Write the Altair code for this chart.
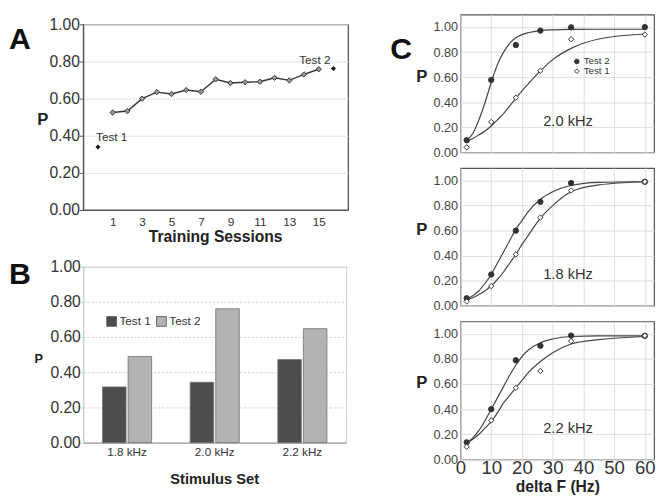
import altair as alt
import pandas as pd

FONT = "Liberation Sans"

# ---------------- Panel A data ----------------
sessions = list(range(1, 16))
session_p = [0.525, 0.533, 0.60, 0.635, 0.625, 0.646, 0.637, 0.704,
             0.684, 0.688, 0.691, 0.712, 0.698, 0.73, 0.758]
test_sessions = [0, 16]
test_p = [0.34, 0.762]
test_names = ["Test 1", "Test 2"]
test_label_x = [0.93, 14.74]
test_label_y = [0.395, 0.81]
odd_sessions = [1, 3, 5, 7, 9, 11, 13, 15]
p_ticks = [0.0, 0.2, 0.4, 0.6, 0.8, 1.0]

# ---------------- Panel B data ----------------
stim_sets = ["1.8 kHz", "2.0 kHz", "2.2 kHz"]
b_test1 = [0.317, 0.343, 0.472]
b_test2 = [0.49, 0.761, 0.648]

# ---------------- Panel C data ----------------
delta_f = [2, 10, 18, 26, 36, 60]
c20_t2 = [0.097, 0.578, 0.857, 0.972, 0.998, 1.0]
c20_t1 = [0.04, 0.243, 0.437, 0.652, 0.903, 0.94]
c18_t2 = [0.06, 0.25, 0.60, 0.83, 0.98, 0.99]
c18_t1 = [0.035, 0.157, 0.41, 0.705, 0.92, 0.99]
c22_t2 = [0.135, 0.40, 0.79, 0.906, 0.987, 0.985]
c22_t1 = [0.10, 0.31, 0.57, 0.705, 0.943, 0.985]

# fitted curves
curve_x = [2, 4, 6, 8, 10, 12, 14, 16, 18, 20, 22, 26, 30, 36, 45, 60]
fit20_t2 = [0.095, 0.15, 0.26, 0.40, 0.56, 0.70, 0.80, 0.87, 0.915, 0.94, 0.955, 0.972, 0.978, 0.982, 0.983, 0.983]
fit20_t1 = [0.09, 0.11, 0.14, 0.17, 0.21, 0.26, 0.31, 0.37, 0.43, 0.49, 0.545, 0.65, 0.74, 0.83, 0.905, 0.945]
fit18_t2 = [0.055, 0.08, 0.12, 0.18, 0.25, 0.34, 0.43, 0.52, 0.61, 0.68, 0.75, 0.85, 0.91, 0.96, 0.985, 0.99]
fit18_t1 = [0.045, 0.065, 0.09, 0.12, 0.16, 0.21, 0.27, 0.34, 0.41, 0.49, 0.56, 0.70, 0.80, 0.91, 0.965, 0.99]
fit22_t2 = [0.13, 0.17, 0.23, 0.31, 0.40, 0.49, 0.58, 0.67, 0.75, 0.82, 0.87, 0.93, 0.96, 0.98, 0.985, 0.985]
fit22_t1 = [0.13, 0.16, 0.20, 0.25, 0.30, 0.37, 0.45, 0.51, 0.57, 0.63, 0.69, 0.78, 0.85, 0.92, 0.955, 0.98]
df_ticks = [0, 10, 20, 30, 40, 50, 60]
series_order = ["Test 2", "Test 1"]

DARK = "#333333"


def letter(ch, x, y):
    return alt.Chart(pd.DataFrame({"t": [ch]})).mark_text(
        fontSize=31, fontWeight="bold", align="left", baseline="middle", color="#111111"
    ).encode(text="t:N", x=alt.value(x), y=alt.value(y))


# ---------------- Panel A ----------------
dfA = pd.DataFrame({"session": sessions, "p": session_p})
dfA_test = pd.DataFrame({"session": test_sessions, "p": test_p})
dfA_lab = pd.DataFrame({"session": test_label_x, "p": test_label_y, "t": test_names})

xA = alt.X("session:Q", scale=alt.Scale(domain=[-1, 17], nice=False, zero=False),
           axis=alt.Axis(values=odd_sessions, grid=False, ticks=False, tickSize=0,
                         labelFontSize=12, labelColor=DARK, labelPadding=7, labelFlush=False,
                         labelOverlap=False,
                         domainColor="#555555", title="Training Sessions", titleFontSize=16,
                         titleFontWeight="bold", titleColor="#222222", titleY=27, titleX=135,
                         titleAlign="center", titleBaseline="middle"))
yA = alt.Y("p:Q", scale=alt.Scale(domain=[0, 1], nice=False),
           axis=alt.Axis(values=p_ticks, format=".2f", labelFontSize=16, labelColor=DARK,
                         labelOverlap=False,
                         tickSize=4, tickColor="#555555", labelPadding=0, domainColor="#555555",
                         gridColor="#e3e3e3", title="P", titleAngle=0, titleX=-42, titleY=97,
                         titleAlign="center", titleBaseline="middle", titleFontSize=17,
                         titleFontWeight="bold", titleColor="#222222"))

lineA = alt.Chart(dfA).mark_line(color=DARK, strokeWidth=1.4).encode(x=xA, y=yA)
ptsA = alt.Chart(dfA).mark_point(shape="diamond", size=30, filled=True, fill="#9a9a9a",
                                  stroke=DARK, strokeWidth=1, opacity=1).encode(x=xA, y=yA)
testA = alt.Chart(dfA_test).mark_point(shape="diamond", size=26, filled=True, color="#111111",
                                        opacity=1).encode(x=xA, y=yA)
labA = alt.Chart(dfA_lab).mark_text(fontSize=12, color=DARK).encode(x=xA, y=yA, text="t:N")

panelA = alt.layer(lineA, ptsA, testA, labA, letter("A", -76, 16)).properties(
    width=271, height=190, view=alt.ViewBackground(stroke="#555555", strokeWidth=1.3))

# ---------------- Panel B ----------------
rows = []
for s, a, b in zip(stim_sets, b_test1, b_test2):
    rows.append({"set": s, "test": "Test 1", "p": a})
    rows.append({"set": s, "test": "Test 2", "p": b})
dfB = pd.DataFrame(rows)

bars = alt.Chart(dfB).mark_bar(stroke="#707070", strokeWidth=0.8).encode(
    x=alt.X("set:N", sort=stim_sets, scale=alt.Scale(paddingInner=0.44, paddingOuter=0.22),
            axis=alt.Axis(labelAngle=0, labelFontSize=12, labelColor=DARK, ticks=False, tickSize=0,
                          labelPadding=4, domainColor="#999999", title="Stimulus Set",
                          titleFontSize=15, titleFontWeight="bold", titleColor="#222222",
                          titleY=37, titleX=134, titleAlign="center", titleBaseline="middle")),
    xOffset=alt.XOffset("test:N", sort=["Test 1", "Test 2"], scale=alt.Scale(paddingInner=0.08)),
    y=alt.Y("p:Q", scale=alt.Scale(domain=[0, 1], nice=False),
            axis=alt.Axis(values=p_ticks, format=".2f", labelFontSize=16, labelColor=DARK,
                          labelOverlap=False,
                          tickSize=3, tickColor="#cccccc", labelPadding=0, domainColor="#cccccc",
                          gridColor="#cfcfcf", gridDash=[2, 2], title="P", titleAngle=0,
                          titleX=-46, titleY=94, titleAlign="center", titleBaseline="middle",
                          titleFontSize=13, titleFontWeight="bold", titleColor="#222222")),
    color=alt.Color("test:N", scale=alt.Scale(domain=["Test 1", "Test 2"], range=["#4d4d4d", "#b3b3b3"]),
                    legend=alt.Legend(title=None, orient="none", direction="horizontal", legendX=23,
                                      legendY=50, symbolType="square", symbolSize=100,
                                      symbolStrokeColor="#666666", symbolStrokeWidth=1,
                                      labelFontSize=12, labelColor=DARK, labelOffset=2,
                                      columnPadding=3)),
)
panelB = alt.layer(bars, letter("B", -76, 9)).properties(
    width=269, height=180, view=alt.ViewBackground(stroke="#cccccc", strokeWidth=1))


# ---------------- Panel C ----------------
def make_c(t2, t1, f2, f1, label, bottom, first):
    pts = pd.DataFrame({"df": delta_f * 2, "p": t2 + t1,
                        "series": ["Test 2"] * len(delta_f) + ["Test 1"] * len(delta_f)})
    fit = pd.DataFrame({"df": curve_x * 2, "p": f2 + f1,
                        "series": ["Test 2"] * len(curve_x) + ["Test 1"] * len(curve_x)})
    lab = pd.DataFrame({"df": [35], "p": [0.25], "t": [label]})

    xkw = dict(values=df_ticks, grid=True, gridColor="#dddddd", ticks=False, tickSize=0,
               domain=False, labels=bottom, labelFontSize=19, labelPadding=0, labelFlush=False,
               labelOverlap=False, labelColor=DARK)
    if bottom:
        xkw.update(title="delta F (Hz)", titleFontSize=16, titleFontWeight="bold",
                   titleColor="#222222", titleY=28, titleX=99, titleAlign="center",
                   titleBaseline="middle")
    else:
        xkw.update(title="")
    xC = alt.X("df:Q", scale=alt.Scale(domain=[0, 63], nice=False, zero=False), axis=alt.Axis(**xkw))
    yC = alt.Y("p:Q", scale=alt.Scale(domain=[0, 1.1], nice=False),
               axis=alt.Axis(values=p_ticks, format=".2f", labelFontSize=13, labelColor="#444444",
                             labelOverlap=False,
                             ticks=False, tickSize=0, labelPadding=3, domain=False,
                             gridColor="#dddddd", title="P", titleAngle=0, titleX=-40, titleY=63,
                             titleAlign="center", titleBaseline="middle", titleFontSize=17,
                             titleFontWeight="bold", titleColor="#222222"))
    if first:
        leg = alt.Legend(title=None, orient="none", legendX=114, legendY=43, labelFontSize=10,
                         labelColor=DARK, labelOffset=2, rowPadding=0, symbolSize=22,
                         symbolStrokeWidth=1)
    else:
        leg = None
    shape = alt.Shape("series:N", scale=alt.Scale(domain=series_order, range=["circle", "diamond"]),
                      legend=leg)
    fill = alt.Fill("series:N", scale=alt.Scale(domain=series_order, range=[DARK, "#ffffff"]),
                    legend=leg)

    lines = alt.Chart(fit).mark_line(color="#444444", strokeWidth=1.2, interpolate="monotone").encode(
        x=xC, y=yC, detail="series:N")
    points = alt.Chart(pts).mark_point(size=30, filled=True, strokeWidth=1, opacity=1).encode(
        x=xC, y=yC, shape=shape, fill=fill, stroke=alt.value(DARK))
    text = alt.Chart(lab).mark_text(fontSize=15, color=DARK, baseline="middle").encode(
        x=xC, y=yC, text="t:N")
    layers = [lines, points, text]
    if first:
        layers.append(letter("C", -72, 36))
    return alt.layer(*layers).properties(
        width=198, height=141, view=alt.ViewBackground(stroke="#555555", strokeWidth=1.2))


c1 = make_c(c20_t2, c20_t1, fit20_t2, fit20_t1, "2.0 kHz", False, True)
c2 = make_c(c18_t2, c18_t1, fit18_t2, fit18_t1, "1.8 kHz", False, False)
c3 = make_c(c22_t2, c22_t1, fit22_t2, fit22_t1, "2.2 kHz", True, False)

right = alt.vconcat(c1, c2, c3, spacing=16, bounds="flush").resolve_scale(
    shape="independent", fill="independent")

spacer = alt.Chart(pd.DataFrame({"z": [0]})).mark_text(text=" ", fontSize=1).encode(
    x=alt.value(5), y=alt.value(5)).properties(
    width=10, height=10, view=alt.ViewBackground(stroke="transparent"))

left_inner = alt.vconcat(panelA, panelB, spacing=58, bounds="flush").resolve_scale(
    color="independent")
left = alt.vconcat(spacer, left_inner, spacing=0, bounds="flush").resolve_scale(
    color="independent")

chart = alt.hconcat(left, right, spacing=41).resolve_scale(
    shape="independent", fill="independent", color="independent"
).properties(padding=0).configure(font=FONT).configure_view(strokeWidth=1)

chart.save("out.html", embed_options={"renderer": "svg", "actions": False})
